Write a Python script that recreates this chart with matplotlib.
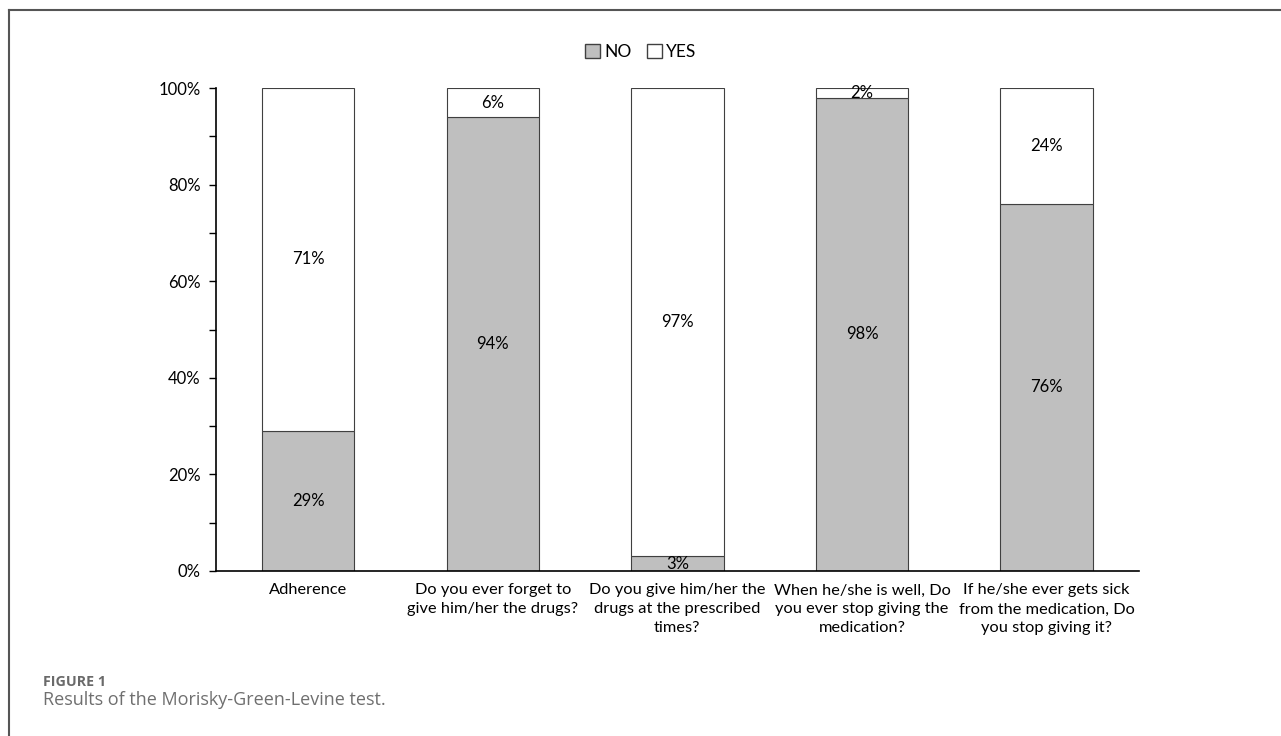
import numpy as np
import matplotlib.pyplot as plt
from matplotlib.lines import Line2D
from matplotlib.patches import Patch
from matplotlib.ticker import MultipleLocator, PercentFormatter

plt.rcParams['font.family'] = ['Lato', 'DejaVu Sans']

# data
categories = ["Adherence",
              "Do you ever forget to\ngive him/her the drugs?",
              "Do you give him/her the\ndrugs at the prescribed\ntimes?",
              "When he/she is well, Do\nyou ever stop giving the\nmedication?",
              "If he/she ever gets sick\nfrom the medication, Do\nyou stop giving it?"]
no_vals = [29, 94, 3, 98, 76]
yes_vals = [71, 6, 97, 2, 24]

fig = plt.figure(figsize=(12.81, 7.36), dpi=100)
ax = fig.add_axes([0.1686, 0.2242, 0.7204, 0.6562])

x = np.arange(len(categories))
ax.bar(x, no_vals, width=0.5, color='#bfbfbf', edgecolor='#404040', linewidth=0.8, label='NO')
ax.bar(x, yes_vals, width=0.5, bottom=no_vals, color='white', edgecolor='#404040', linewidth=0.8, label='YES')

# segment labels
for i in range(len(categories)):
    ax.text(x[i], no_vals[i] / 2, f"{no_vals[i]}%", ha='center', va='center', fontsize=12)
    ax.text(x[i], no_vals[i] + yes_vals[i] / 2, f"{yes_vals[i]}%", ha='center', va='center', fontsize=12)

ax.set_xlim(-0.5, len(categories) - 0.5)
ax.set_ylim(0, 100)
ax.yaxis.set_major_locator(MultipleLocator(20))
ax.yaxis.set_minor_locator(MultipleLocator(10))
ax.yaxis.set_major_formatter(PercentFormatter(decimals=0))
ax.set_xticks(x)
ax.set_xticklabels(categories, fontsize=11.8, linespacing=1.45)
ax.tick_params(axis='x', length=0, pad=9)
ax.tick_params(axis='y', which='major', length=5, width=1, labelsize=12, pad=6)
ax.tick_params(axis='y', which='minor', length=5, width=1)
for s in ['top', 'right']:
    ax.spines[s].set_visible(False)
for s in ['left', 'bottom']:
    ax.spines[s].set_linewidth(1.2)
    ax.spines[s].set_color('black')

handles = [Patch(facecolor='#bfbfbf', edgecolor='#404040', label='NO'),
           Patch(facecolor='white', edgecolor='#404040', label='YES')]
fig.legend(handles=handles, loc='center', bbox_to_anchor=(0.5, 0.929), ncol=2, frameon=False,
           fontsize=12.5, handlelength=0.85, handleheight=0.85, handletextpad=0.25, columnspacing=0.9)

# frame around figure
fig.add_artist(Line2D([9 / 1281, 1], [1 - 10 / 736, 1 - 10 / 736], color='#555555', linewidth=1.5))
fig.add_artist(Line2D([9 / 1281, 9 / 1281], [0, 1 - 10 / 736], color='#555555', linewidth=1.5))

# caption
fig.text(43 / 1281, 1 - 682 / 736, "FIGURE 1", fontsize=10.3, fontweight='bold', color='#6a6a6a',
         family=['Open Sans', 'DejaVu Sans'], va='center')
fig.text(43 / 1281, 1 - 700 / 736, "Results of the Morisky-Green-Levine test.", fontsize=13,
         color='#6f6f6f', family=['Open Sans', 'DejaVu Sans'], va='center')

fig.savefig('out.png', dpi=100)
